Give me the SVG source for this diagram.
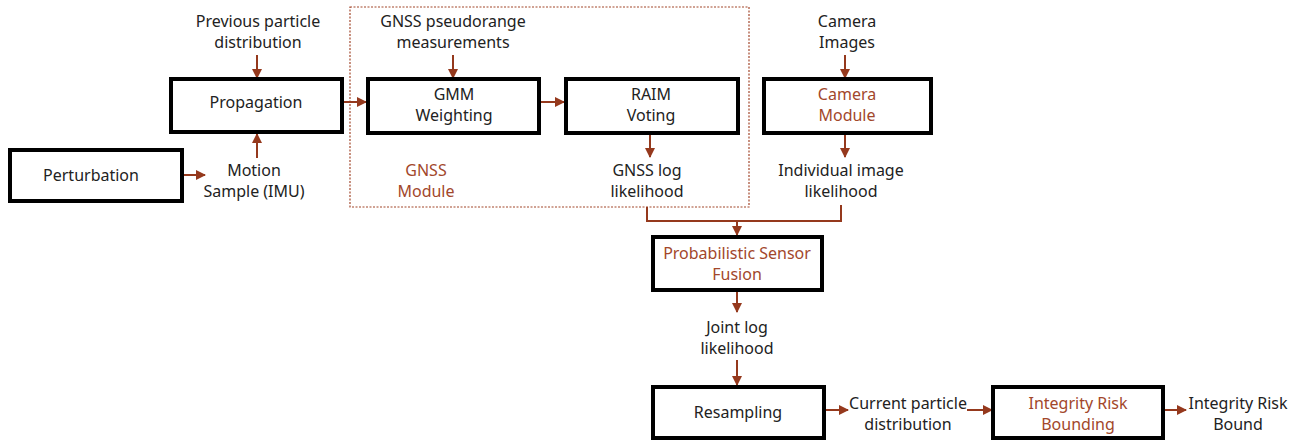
<svg xmlns="http://www.w3.org/2000/svg" width="1300" height="442" viewBox="0 0 1300 442">
<style>
text{font-family:"Noto Sans","Open Sans","DejaVu Sans",sans-serif;font-size:16px;fill:#222;text-anchor:middle}
text.r{fill:#a2472b}
.box{fill:#fff;stroke:#000;stroke-width:4}
.c{fill:none;stroke:#95391d;stroke-width:2}
</style>
<defs>
<marker id="a" viewBox="0 0 10 10" refX="9" refY="5" markerWidth="5" markerHeight="5" orient="auto" markerUnits="strokeWidth">
<path d="M0,0 L10,5 L0,10 z" fill="#95391d"/>
</marker>
</defs>
<rect width="1300" height="442" fill="#fff"/>
<g id="gnss-module">
<rect x="350" y="7" width="399" height="200" fill="none" stroke="#a2472b" stroke-width="1.2" stroke-dasharray="2,1.5"/>
<text class="r" x="426" y="176">GNSS</text>
<text class="r" x="426" y="197">Module</text>
</g>
<g id="connectors">
<line class="c" x1="257" y1="55" x2="257" y2="78" marker-end="url(#a)"/>
<line class="c" x1="257" y1="158" x2="257" y2="134" marker-end="url(#a)"/>
<line class="c" x1="182" y1="175" x2="205" y2="175" marker-end="url(#a)"/>
<line class="c" x1="342" y1="102" x2="366" y2="102" marker-end="url(#a)"/>
<line class="c" x1="453" y1="55" x2="453" y2="78" marker-end="url(#a)"/>
<line class="c" x1="539" y1="102" x2="564" y2="102" marker-end="url(#a)"/>
<line class="c" x1="650" y1="133" x2="650" y2="157" marker-end="url(#a)"/>
<line class="c" x1="845" y1="55" x2="845" y2="78" marker-end="url(#a)"/>
<line class="c" x1="845" y1="133" x2="845" y2="157" marker-end="url(#a)"/>
<path class="c" d="M647,207 V221 H841 V205"/>
<line class="c" x1="737" y1="221" x2="737" y2="235" marker-end="url(#a)"/>
<line class="c" x1="737" y1="290" x2="737" y2="312" marker-end="url(#a)"/>
<line class="c" x1="737" y1="360" x2="737" y2="385" marker-end="url(#a)"/>
<line class="c" x1="824" y1="410" x2="848" y2="410" marker-end="url(#a)"/>
<line class="c" x1="967" y1="410" x2="992" y2="410" marker-end="url(#a)"/>
<line class="c" x1="1163" y1="410" x2="1186" y2="410" marker-end="url(#a)"/>
</g>
<g id="previous-particle">
<text x="258" y="27">Previous particle</text>
<text x="258" y="48">distribution</text>
</g>
<g id="propagation">
<rect class="box" x="171" y="79" width="171" height="53"/>
<text x="256" y="108">Propagation</text>
</g>
<g id="perturbation">
<rect class="box" x="10" y="150" width="172" height="51"/>
<text x="91" y="181">Perturbation</text>
</g>
<g id="motion-sample">
<text x="254" y="176">Motion</text>
<text x="254" y="197">Sample (IMU)</text>
</g>
<g id="gnss-pseudorange">
<text x="453" y="27">GNSS pseudorange</text>
<text x="453" y="48">measurements</text>
</g>
<g id="gmm">
<rect class="box" x="368" y="79" width="171" height="54"/>
<text x="454" y="100">GMM</text>
<text x="454" y="121">Weighting</text>
</g>
<g id="raim">
<rect class="box" x="566" y="79" width="172" height="54"/>
<text x="651" y="100">RAIM</text>
<text x="651" y="121">Voting</text>
</g>
<g id="gnss-log-likelihood">
<text x="647" y="176">GNSS log</text>
<text x="647" y="197">likelihood</text>
</g>
<g id="camera-images">
<text x="847" y="27">Camera</text>
<text x="847" y="48">Images</text>
</g>
<g id="camera-module">
<rect class="box" x="764" y="79" width="167" height="54"/>
<text class="r" x="847" y="100">Camera</text>
<text class="r" x="847" y="121">Module</text>
</g>
<g id="image-likelihood">
<text x="841" y="176">Individual image</text>
<text x="841" y="197">likelihood</text>
</g>
<g id="fusion">
<rect class="box" x="653" y="237" width="169" height="53"/>
<text class="r" x="737" y="259">Probabilistic Sensor</text>
<text class="r" x="737" y="280">Fusion</text>
</g>
<g id="joint-log-likelihood">
<text x="737" y="333">Joint log</text>
<text x="737" y="354">likelihood</text>
</g>
<g id="resampling">
<rect class="box" x="653" y="387" width="171" height="51"/>
<text x="738" y="418">Resampling</text>
</g>
<g id="current-particle">
<text x="908" y="409">Current particle</text>
<text x="908" y="430">distribution</text>
</g>
<g id="integrity-risk-bounding">
<rect class="box" x="993" y="387" width="170" height="51"/>
<text class="r" x="1078" y="409">Integrity Risk</text>
<text class="r" x="1078" y="430">Bounding</text>
</g>
<g id="integrity-risk-bound">
<text x="1238" y="409">Integrity Risk</text>
<text x="1238" y="430">Bound</text>
</g>
</svg>
